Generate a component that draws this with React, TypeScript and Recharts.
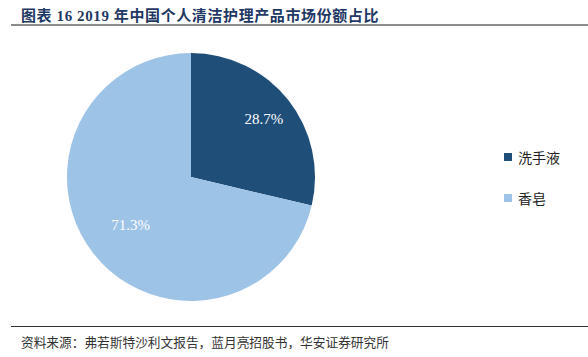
import { PieChart, Pie, Cell, Legend } from "recharts";

const categories = ["洗手液", "香皂"];
const shares = [28.7, 71.3];
const colors = ["#1f4e79", "#9dc3e6"];
const labelRadius = [0.75, 0.62];

const data = categories.map((name, i) => ({ name, value: shares[i] }));

const RADIAN = Math.PI / 180;

function renderLabel(props: any) {
  const { cx, cy, midAngle, outerRadius, index, value } = props;
  const r = outerRadius * labelRadius[index];
  const x = cx + r * Math.cos(-midAngle * RADIAN);
  const y = cy + r * Math.sin(-midAngle * RADIAN);
  return (
    <text
      x={x}
      y={y}
      fill="#ffffff"
      textAnchor="middle"
      dominantBaseline="central"
      style={{ fontFamily: "'Liberation Serif', 'Times New Roman', serif", fontSize: 15 }}
    >
      {value.toFixed(1)}%
    </text>
  );
}

function LegendBox() {
  return (
    <div style={{ fontFamily: "'Noto Sans CJK SC', sans-serif", fontSize: 14, color: "#222" }}>
      {data.map((d, i) => (
        <div key={d.name} style={{ display: "flex", alignItems: "center", height: 20, marginBottom: i === 0 ? 21 : 0 }}>
          <span style={{ width: 8, height: 8, background: colors[i], marginRight: 6, display: "inline-block" }} />
          {d.name}
        </div>
      ))}
    </div>
  );
}

export default function App() {
  return (
    <div style={{ position: "absolute", left: 0, top: 0, width: 588, height: 357, background: "#fff" }}>
      <div
        style={{
          position: "absolute",
          left: 21,
          top: 4,
          fontFamily: "'Liberation Serif', 'Noto Sans CJK SC', serif",
          fontWeight: 700,
          fontSize: 15,
          letterSpacing: 0.6,
          color: "#1f3864",
          whiteSpace: "nowrap",
        }}
      >
        图表 16 2019 年中国个人清洁护理产品市场份额占比
      </div>
      <div style={{ position: "absolute", left: 11, top: 24, width: 577, height: 2, background: "#8c8c8c" }} />
      <div style={{ position: "absolute", left: 0, top: 0 }}>
        <PieChart width={588} height={320} margin={{ top: 0, right: 0, bottom: 0, left: 0 }}>
          <Pie
            data={data}
            dataKey="value"
            nameKey="name"
            cx={191}
            cy={177}
            outerRadius={124}
            startAngle={90}
            endAngle={-270}
            stroke="none"
            label={renderLabel}
            labelLine={false}
            isAnimationActive={false}
          >
            {data.map((d, i) => (
              <Cell key={d.name} fill={colors[i]} />
            ))}
          </Pie>
          <Legend
            layout="vertical"
            align="right"
            verticalAlign="top"
            wrapperStyle={{ left: 504, top: 147, width: 80 }}
            content={() => <LegendBox />}
          />
        </PieChart>
      </div>
      <div style={{ position: "absolute", left: 11, top: 326, width: 577, height: 1, background: "#333" }} />
      <div
        style={{
          position: "absolute",
          left: 21,
          top: 332,
          fontFamily: "'Noto Sans CJK SC', sans-serif",
          fontSize: 12.7,
          color: "#333",
          whiteSpace: "nowrap",
        }}
      >
        资料来源：弗若斯特沙利文报告，蓝月亮招股书，华安证券研究所
      </div>
    </div>
  );
}
